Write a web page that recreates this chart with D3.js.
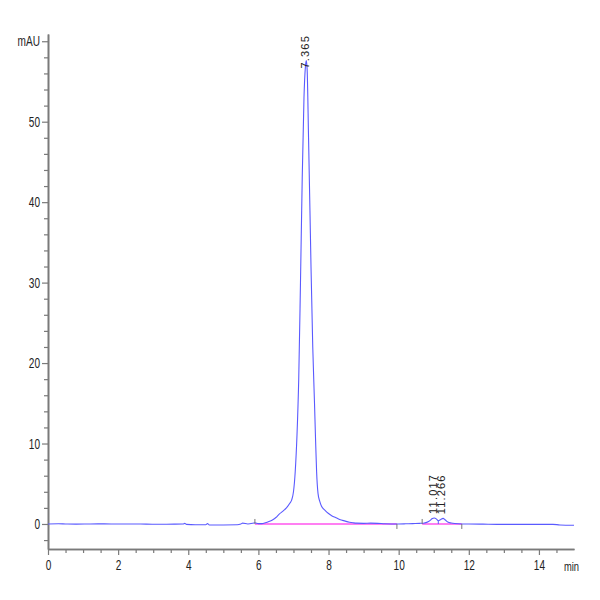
<!DOCTYPE html>
<html>
<head>
<meta charset="utf-8">
<script src="https://cdn.jsdelivr.net/npm/d3@7"></script>
<style>
  html, body { margin: 0; padding: 0; background: #fff; }
  svg { display: block; }
</style>
</head>
<body>
<svg id="chart" width="600" height="600"></svg>
<script>
// ---- data ----
const times = [0, 0.3, 0.5, 0.8, 1.2, 1.6, 2.0, 2.4, 2.8, 3.2, 3.6, 3.85, 3.9, 3.95, 4.2, 4.5, 4.55, 4.6, 5.0, 5.4, 5.5, 5.55, 5.7, 5.85, 5.9, 6.0, 6.1, 6.2, 6.3, 6.4, 6.5, 6.6, 6.7, 6.8, 6.9, 6.95, 7.0, 7.05, 7.1, 7.15, 7.2, 7.25, 7.3, 7.34, 7.365, 7.39, 7.43, 7.47, 7.5, 7.55, 7.6, 7.63, 7.66, 7.7, 7.75, 7.8, 7.9, 8.0, 8.1, 8.2, 8.3, 8.4, 8.5, 8.6, 8.7, 8.8, 9.0, 9.2, 9.4, 9.6, 9.8, 10.0, 10.2, 10.4, 10.6, 10.7, 10.8, 10.9, 10.95, 11.017, 11.08, 11.13, 11.2, 11.266, 11.33, 11.4, 11.5, 11.6, 11.8, 12.0, 12.4, 12.8, 13.2, 13.6, 14.0, 14.4, 14.6, 15.0];
const signal = [0, 0.02, 0, -0.02, 0, 0.01, -0.01, 0, -0.02, -0.03, -0.02, 0.0, 0.08, -0.05, -0.1, -0.1, 0.05, -0.12, -0.12, -0.1, 0.0, 0.1, 0.0, 0.1, 0.15, 0.05, 0.05, 0.15, 0.3, 0.5, 0.8, 1.25, 1.6, 2.0, 2.6, 3.0, 4.0, 6.5, 11, 18, 30, 43, 53, 56.8, 57.6, 56.5, 48, 39, 32, 22, 15, 10.5, 6.5, 3.8, 2.8, 2.2, 1.7, 1.3, 1.0, 0.8, 0.6, 0.45, 0.32, 0.22, 0.15, 0.1, 0.08, 0.1, 0.08, 0.02, 0.0, 0.0, 0.02, 0.05, 0.08, 0.1, 0.2, 0.45, 0.65, 0.75, 0.6, 0.4, 0.55, 0.7, 0.5, 0.25, 0.12, 0.05, 0.0, 0.0, -0.02, -0.05, -0.05, -0.05, -0.05, -0.05, -0.12, -0.15];

const peakTimes = [7.365, 11.017, 11.266];
const peakHeights = [57.6, 0.75, 0.7];
const peakLabels = ["7.365", "11.017", "11.266"];

// integrated baselines (start, end) in min
const baseStarts = [5.9, 10.67];
const baseEnds = [9.95, 11.8];
// integration event marks (min) and whether drawn above (1) or below (-1) the baseline
const eventTimes = [5.9, 9.95, 10.67, 11.8];
const eventSides = [1, -1, 1, -1];
// drop line between the two small peaks
const dropTimes = [11.13];
const dropHeights = [0.4];

const xMajorTicks = [0, 2, 4, 6, 8, 10, 12, 14];
const xMinorTicks = [0.5, 1, 1.5, 2.5, 3, 3.5, 4.5, 5, 5.5, 6.5, 7, 7.5, 8.5, 9, 9.5, 10.5, 11, 11.5, 12.5, 13, 13.5, 14.5];
const yMajorTicks = [0, 10, 20, 30, 40, 50, 60];
const yMajorLabels = ["0", "10", "20", "30", "40", "50", "mAU"];
const yMinorTicks = [-2, 2, 4, 6, 8, 12, 14, 16, 18, 22, 24, 26, 28, 32, 34, 36, 38, 42, 44, 46, 48, 52, 54, 56, 58];
const xUnit = "min";

// ---- drawing ----
(function () {
const svg = d3.select("#chart");
const mLeft = 48, mRight = 574, mTop = 34, mBottom = 549;
const x = d3.scaleLinear().domain([0, 15]).range([mLeft, mRight]);
const y = d3.scaleLinear().domain([-3.11, 60.9]).range([mBottom, mTop]);

const axisColor = "#7a7a7a";
const tickFont = "'Liberation Sans', Arial, sans-serif";
const squeeze = 0.72;

function styleAxis(g) {
  g.select(".domain").attr("stroke", axisColor).attr("stroke-width", 1.6);
  g.selectAll(".tick line").attr("stroke", axisColor).attr("stroke-width", 1.2);
  g.selectAll(".tick text").attr("fill", "#222").style("font-family", tickFont).style("font-size", "14px");
}

// minor ticks
svg.append("g").attr("transform", `translate(0,${mBottom})`)
  .call(d3.axisBottom(x).tickValues(xMinorTicks).tickSize(4).tickSizeOuter(0).tickFormat(""))
  .call(styleAxis);
svg.append("g").attr("transform", `translate(${mLeft},0)`)
  .call(d3.axisLeft(y).tickValues(yMinorTicks).tickSize(4).tickSizeOuter(0).tickFormat(""))
  .call(styleAxis);

// major ticks
const gx = svg.append("g").attr("transform", `translate(0,${mBottom})`)
  .call(d3.axisBottom(x).tickValues(xMajorTicks).tickSize(6).tickSizeOuter(0).tickPadding(5).tickFormat(d3.format("d")))
  .call(styleAxis);
gx.selectAll(".tick text").attr("transform", `scale(${squeeze},1)`);

const gy = svg.append("g").attr("transform", `translate(${mLeft},0)`)
  .call(d3.axisLeft(y).tickValues(yMajorTicks).tickSize(6).tickSizeOuter(0).tickPadding(2)
    .tickFormat((d, i) => yMajorLabels[i]))
  .call(styleAxis);
gy.selectAll(".tick text")
  .attr("x", -8 / squeeze)
  .attr("transform", `scale(${squeeze},1)`);

// unit label on x axis
svg.append("text")
  .attr("transform", `translate(${x(15) - 10},${mBottom + 22}) scale(${squeeze},1)`)
  .attr("fill", "#222")
  .style("font-family", tickFont).style("font-size", "13px")
  .text(xUnit);

// integrated baselines (magenta)
svg.selectAll("line.base").data(baseStarts).join("line")
  .attr("class", "base")
  .attr("x1", d => x(d)).attr("x2", (d, i) => x(baseEnds[i]))
  .attr("y1", y(0)).attr("y2", y(0))
  .attr("stroke", "#ff55ee").attr("stroke-width", 1.4);

// signal trace
const pts = times.map((t, i) => [t, signal[i]]);
const line = d3.line().x(d => x(d[0])).y(d => y(d[1])).curve(d3.curveMonotoneX);
svg.append("path").datum(pts)
  .attr("d", line)
  .attr("fill", "none")
  .attr("stroke", "#5a5aff")
  .attr("stroke-width", 1.1);

// integration event marks
svg.selectAll("line.evt").data(eventTimes).join("line")
  .attr("class", "evt")
  .attr("x1", d => x(d)).attr("x2", d => x(d))
  .attr("y1", y(0)).attr("y2", (d, i) => y(0) - eventSides[i] * 5)
  .attr("stroke", "#777").attr("stroke-width", 1);

// drop lines
svg.selectAll("line.drop").data(dropTimes).join("line")
  .attr("class", "drop")
  .attr("x1", d => x(d)).attr("x2", d => x(d))
  .attr("y1", y(0)).attr("y2", (d, i) => y(dropHeights[i]))
  .attr("stroke", "#5a5aff").attr("stroke-width", 1);

// peak labels (rotated)
peakTimes.forEach((t, i) => {
  const px = x(t) - 1.5;
  const txt = svg.append("text")
    .attr("fill", "#222")
    .style("font-family", "'Liberation Sans', Arial, sans-serif")
    .style("font-size", "11px")
    .style("letter-spacing", "1.2px")
    .attr("dy", "0.35em")
    .text(peakLabels[i]);
  const len = txt.node().getComputedTextLength();
  const py = Math.max(y(peakHeights[i]) - 4, mTop + len + 1);
  txt.attr("transform", `translate(${px},${py}) rotate(-90)`);
});
})();
</script>
</body>
</html>
